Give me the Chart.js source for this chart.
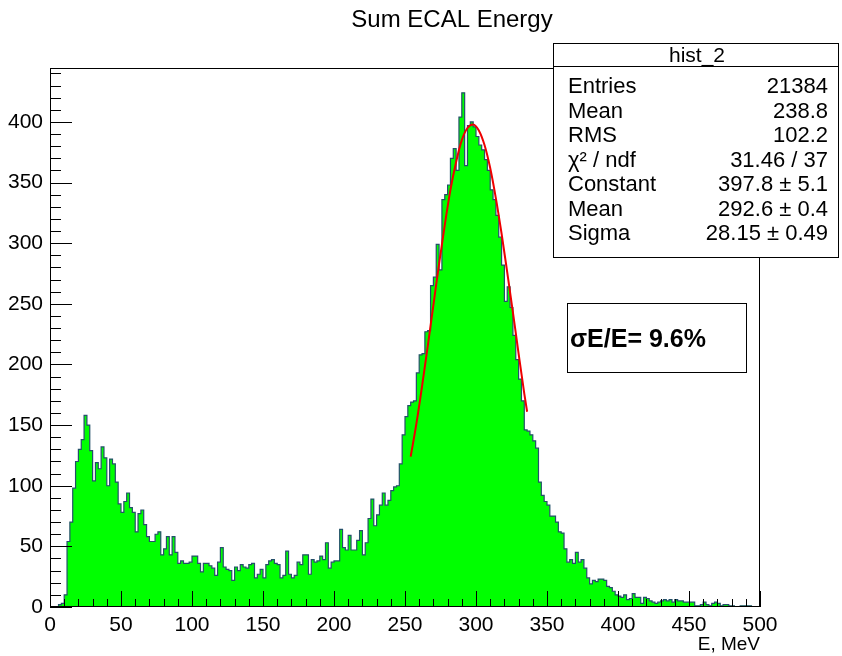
<!DOCTYPE html>
<html lang="en">
<head>
  <meta charset="UTF-8">
  <title>Sum ECAL Energy</title>
  <script src="https://cdn.jsdelivr.net/npm/chart.js"></script>
  <style>
    body {
      margin: 0;
      background: #fff;
    }

    .wrap {
      width: 842px;
      height: 656px;
    }
  </style>
</head>
<body>

<div class="wrap">
  <canvas id="ecalChart" width="842" height="656"></canvas>
</div>

<script>
  // hist_2 : 250 bins, 2 MeV wide, 0..500 MeV (counts)
  const binWidth = 2;
  const counts = [
    0, 0, 0, 0, 2, 3, 10, 54, 70, 98,
    120, 130, 138, 158, 150, 129, 104, 119, 114, 132,
    123, 100, 122, 118, 103, 85, 78, 87, 94, 82,
    78, 62, 77, 80, 68, 58, 54, 54, 60, 62,
    43, 48, 58, 43, 58, 45, 36, 38, 36, 36,
    37, 42, 42, 36, 29, 36, 36, 34, 32, 26,
    37, 49, 33, 31, 30, 22, 33, 30, 35, 33,
    32, 35, 36, 24, 27, 31, 24, 35, 38, 39,
    36, 35, 24, 26, 46, 27, 24, 26, 37, 35,
    43, 43, 27, 39, 37, 38, 42, 39, 53, 32,
    37, 38, 38, 64, 49, 47, 59, 47, 47, 55,
    63, 43, 53, 73, 89, 67, 76, 84, 94, 84,
    88, 96, 99, 100, 118, 142, 157, 166, 169, 170,
    193, 208, 209, 227, 228, 265, 272, 299, 278, 336,
    340, 348, 370, 378, 360, 404, 424, 364, 397, 400,
    396, 388, 381, 377, 369, 360, 344, 336, 323, 305,
    282, 252, 264, 247, 224, 204, 188, 170, 146, 145,
    142, 137, 131, 103, 92, 87, 84, 75, 75, 70,
    62, 61, 48, 37, 39, 36, 45, 37, 39, 32,
    24, 19, 22, 21, 23, 23, 22, 17, 16, 13,
    10, 9, 8, 10, 6, 7, 11, 8, 8, 3,
    8, 7, 5, 4, 3, 4, 5, 6, 5, 6,
    4, 6, 5, 5, 4, 4, 4, 4, 1, 1,
    2, 4, 2, 1, 3, 4, 3, 1, 2, 2,
    1, 1, 0, 0, 1, 1, 1, 1, 0, 0
  ];

  // gaus fit curve (red)
  const fitE = [254, 258, 262, 266, 270, 274, 278, 282, 286, 290, 294, 298, 302, 306, 310, 314, 318, 322, 326, 330, 334, 336];
  const fitY = [124, 151, 182, 215, 249, 283, 315, 344, 367, 385, 395, 398, 393, 381, 362, 337, 308, 276, 243, 209, 176, 161];

  const xTicks = [0, 50, 100, 150, 200, 250, 300, 350, 400, 450, 500];
  const yTicks = [0, 50, 100, 150, 200, 250, 300, 350, 400];
  const yMax = 444.5;

  const statsTitle = 'hist_2';
  const statsLabels = ['Entries', 'Mean', 'RMS', 'χ² / ndf', 'Constant', 'Mean', 'Sigma'];
  const statsValues = ['21384', '238.8', '102.2', '31.46 / 37', '397.8 ± 5.1', '292.6 ± 0.4', '28.15 ± 0.49'];

  const FONT = "'Liberation Sans', Arial, Helvetica, sans-serif";

  // step histogram: one point per bin low edge + closing point at the upper edge
  const histPoints = counts.map((c, i) => ({ x: i * binWidth, y: c }));
  histPoints.push({ x: counts.length * binWidth, y: counts[counts.length - 1] });

  const fitPoints = fitE.map((e, i) => ({ x: e, y: fitY[i] }));

  // ROOT style frame + inward ticks
  const rootFrame = {
    id: 'rootFrame',
    afterDatasetsDraw(chart) {
      const { ctx, chartArea: a, scales } = chart;
      const x = scales.x, y = scales.y;
      ctx.save();
      ctx.strokeStyle = '#000';
      ctx.lineWidth = 1;
      ctx.strokeRect(a.left + 0.5, a.top + 0.5, a.right - a.left - 1, a.bottom - a.top - 1);
      ctx.beginPath();
      for (let v = 0; v <= 500; v += 10) {
        const px = Math.round(x.getPixelForValue(v)) + 0.5;
        const len = v % 50 === 0 ? 16 : 8;
        ctx.moveTo(px, a.bottom);
        ctx.lineTo(px, a.bottom - len);
      }
      for (let v = 0; v <= yMax; v += 10) {
        const py = Math.round(y.getPixelForValue(v)) + 0.5;
        const len = v % 50 === 0 ? 22 : 11;
        ctx.moveTo(a.left, py);
        ctx.lineTo(a.left + len, py);
      }
      ctx.stroke();
      ctx.restore();
    }
  };

  // title, axis title, stats box and resolution label
  const rootText = {
    id: 'rootText',
    afterDraw(chart) {
      const { ctx, chartArea: a } = chart;
      ctx.save();
      ctx.fillStyle = '#000';

      ctx.font = '24px ' + FONT;
      ctx.textAlign = 'center';
      ctx.textBaseline = 'middle';
      ctx.fillText('Sum ECAL Energy', 452, 20);

      ctx.font = '19px ' + FONT;
      ctx.textAlign = 'right';
      ctx.fillText('E, MeV', a.right, 645);

      // stats box
      const bx = 553, by = 43, bw = 285, bh = 214;
      ctx.fillStyle = '#fff';
      ctx.fillRect(bx, by, bw, bh);
      ctx.strokeStyle = '#000';
      ctx.lineWidth = 1;
      ctx.strokeRect(bx + 0.5, by + 0.5, bw, bh);
      ctx.beginPath();
      ctx.moveTo(bx, 66.5);
      ctx.lineTo(bx + bw, 66.5);
      ctx.stroke();

      ctx.fillStyle = '#000';
      ctx.font = '21px ' + FONT;
      ctx.textAlign = 'center';
      ctx.fillText(statsTitle, 697, 56);
      ctx.font = '22px ' + FONT;
      statsLabels.forEach((lab, i) => {
        const ty = 87 + i * 24.5;
        ctx.textAlign = 'left';
        ctx.fillText(lab, 568, ty);
        ctx.textAlign = 'right';
        ctx.fillText(statsValues[i], 828, ty);
      });

      // resolution box
      ctx.fillStyle = '#fff';
      ctx.fillRect(567, 303, 179, 69);
      ctx.strokeRect(567.5, 303.5, 179, 69);
      ctx.fillStyle = '#000';
      ctx.font = 'bold 25px ' + FONT;
      ctx.textAlign = 'left';
      ctx.fillText('σE/E= 9.6%', 570, 340);

      ctx.restore();
    }
  };

  const ctx = document.getElementById('ecalChart').getContext('2d');

  new Chart(ctx, {
    type: 'line',
    data: {
      datasets: [
        {
          label: 'hist_2',
          data: histPoints,
          stepped: 'after',
          fill: 'origin',
          backgroundColor: '#00ff00',
          borderColor: '#24506a',
          borderWidth: 1.2,
          pointRadius: 0,
          order: 2
        },
        {
          label: 'gaus',
          data: fitPoints,
          fill: false,
          borderColor: '#ee0000',
          borderWidth: 2,
          pointRadius: 0,
          cubicInterpolationMode: 'monotone',
          order: 1
        }
      ]
    },
    options: {
      responsive: false,
      animation: false,
      layout: {
        padding: { left: 0, top: 68, right: 82, bottom: 0 }
      },
      plugins: {
        legend: { display: false },
        tooltip: { enabled: false }
      },
      scales: {
        x: {
          type: 'linear',
          min: 0,
          max: 500,
          afterFit: s => { s.height = 49; },
          afterBuildTicks: s => { s.ticks = xTicks.map(v => ({ value: v })); },
          grid: { display: false, drawTicks: false },
          border: { display: false },
          ticks: {
            padding: 6,
            maxRotation: 0,
            autoSkip: false,
            color: '#000',
            font: { family: FONT, size: 21 }
          }
        },
        y: {
          type: 'linear',
          min: 0,
          max: yMax,
          afterFit: s => { s.width = 50; },
          afterBuildTicks: s => { s.ticks = yTicks.map(v => ({ value: v })); },
          grid: { display: false, drawTicks: false },
          border: { display: false },
          ticks: {
            padding: 7,
            autoSkip: false,
            color: '#000',
            font: { family: FONT, size: 21 }
          }
        }
      }
    },
    plugins: [rootFrame, rootText]
  });
</script>

</body>
</html>
